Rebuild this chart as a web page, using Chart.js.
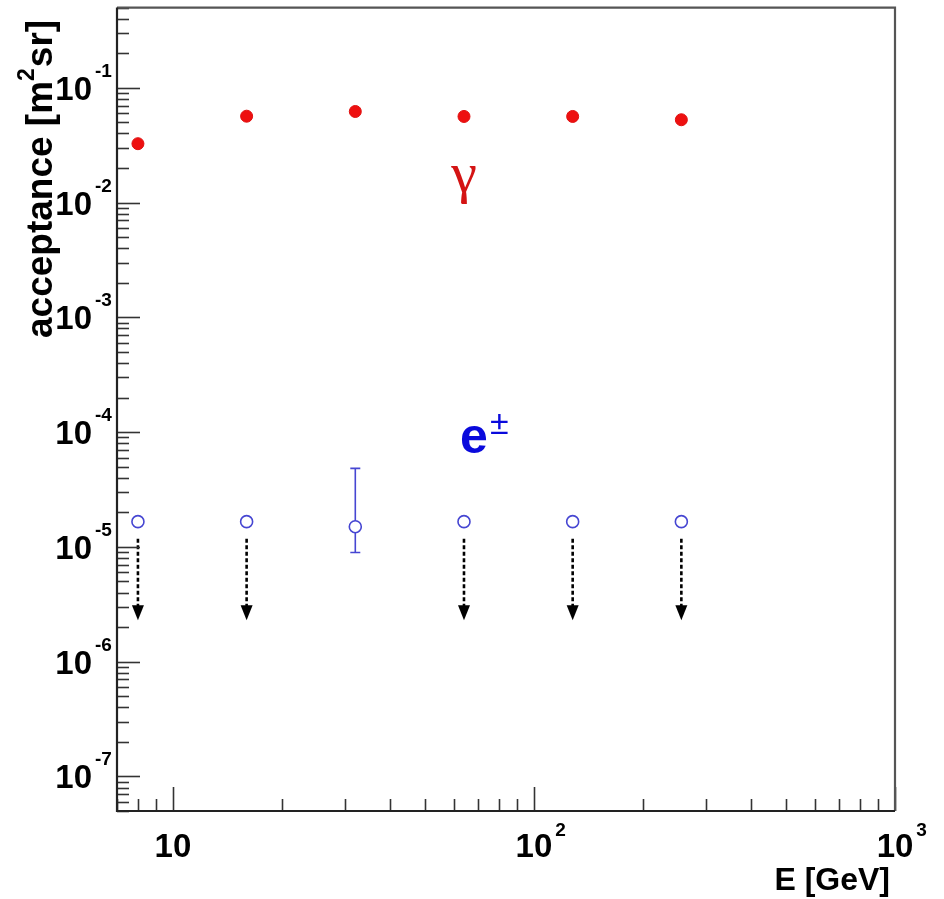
<!DOCTYPE html>
<html lang="en">
<head>
<meta charset="UTF-8">
<title>Acceptance vs energy</title>
<script src="https://cdn.jsdelivr.net/npm/chart.js"></script>
<style>
  body { margin: 0; background: #fff; }
  #chart { display: block; }
</style>
</head>
<body>
<canvas id="chart" width="944" height="899"></canvas>
<script>
// energy bins (GeV) and acceptance (m^2 sr)
const energies = [8, 16, 32, 64, 128, 256];
const gammaAcc = [0.0326, 0.0566, 0.0622, 0.0563, 0.0563, 0.0527];
const electronAcc = [1.66e-5, 1.66e-5, 1.50e-5, 1.66e-5, 1.66e-5, 1.66e-5];
// only the 32 GeV electron point is a measurement, the others are upper limits
const electronErrLow = [null, null, 8.93e-6, null, null, null];
const electronErrHigh = [null, null, 4.83e-5, null, null, null];
const upperLimit = [true, true, false, true, true, true];
const arrowTip = 2.3e-6;

const xRange = [7, 1000];
const yRange = [5e-8, 0.5];
const xTickValues = [10, 100, 1000];
const xTickExps = ['', '2', '3'];
const yTickValues = [1e-7, 1e-6, 1e-5, 1e-4, 1e-3, 1e-2, 1e-1];
const yTickExps = ['-7', '-6', '-5', '-4', '-3', '-2', '-1'];

const FONT = '"Liberation Sans", Arial, sans-serif';

function minorTicks(lo, hi) {
  const out = [];
  for (let e = Math.floor(Math.log10(lo)); e <= Math.ceil(Math.log10(hi)); e++) {
    for (let m = 1; m <= 9; m++) {
      const v = m * Math.pow(10, e);
      if (v >= lo && v <= hi) out.push({ v: v, major: m === 1 });
    }
  }
  return out;
}

const decorations = {
  id: 'decorations',
  beforeDatasetsDraw(chart) {
    const ctx = chart.ctx;
    const x = chart.scales.x, y = chart.scales.y;
    // error bar on the measured electron point
    ctx.save();
    ctx.strokeStyle = '#4646d2';
    ctx.lineWidth = 1.6;
    energies.forEach((e, i) => {
      if (electronErrLow[i] == null) return;
      const px = x.getPixelForValue(e);
      const y1 = y.getPixelForValue(electronErrHigh[i]);
      const y2 = y.getPixelForValue(electronErrLow[i]);
      ctx.beginPath();
      ctx.moveTo(px, y1); ctx.lineTo(px, y2);
      ctx.moveTo(px - 5, y1); ctx.lineTo(px + 5, y1);
      ctx.moveTo(px - 5, y2); ctx.lineTo(px + 5, y2);
      ctx.stroke();
    });
    ctx.restore();
  },
  afterDatasetsDraw(chart) {
    const ctx = chart.ctx;
    const x = chart.scales.x, y = chart.scales.y;
    const a = chart.chartArea;
    ctx.save();

    // upper limit arrows
    ctx.strokeStyle = '#000';
    ctx.fillStyle = '#000';
    energies.forEach((e, i) => {
      if (!upperLimit[i]) return;
      const px = x.getPixelForValue(e);
      const top = y.getPixelForValue(electronAcc[i]) + 17;
      const tip = y.getPixelForValue(arrowTip);
      ctx.lineWidth = 2.6;
      ctx.setLineDash([4, 2.5]);
      ctx.beginPath();
      ctx.moveTo(px, top); ctx.lineTo(px, tip - 14);
      ctx.stroke();
      ctx.setLineDash([]);
      ctx.beginPath();
      ctx.moveTo(px - 6, tip - 15);
      ctx.lineTo(px + 6, tip - 15);
      ctx.lineTo(px, tip);
      ctx.closePath();
      ctx.fill();
    });

    // ticks drawn inside the frame
    ctx.strokeStyle = '#333';
    ctx.lineWidth = 1.6;
    minorTicks(yRange[0], yRange[1]).forEach(t => {
      const py = Math.round(y.getPixelForValue(t.v)) + 0.5;
      ctx.beginPath();
      ctx.moveTo(a.left, py); ctx.lineTo(a.left + (t.major ? 23 : 12), py);
      ctx.stroke();
    });
    minorTicks(xRange[0], xRange[1]).forEach(t => {
      const px = Math.round(x.getPixelForValue(t.v)) + 0.5;
      ctx.beginPath();
      ctx.moveTo(px, a.bottom); ctx.lineTo(px, a.bottom - (t.major ? 24 : 12));
      ctx.stroke();
    });

    // frame
    ctx.lineWidth = 2.2;
    ctx.strokeStyle = '#555';
    ctx.beginPath();
    ctx.moveTo(a.left, a.top); ctx.lineTo(a.right, a.top); ctx.lineTo(a.right, a.bottom);
    ctx.stroke();
    ctx.strokeStyle = '#222';
    ctx.beginPath();
    ctx.moveTo(a.left, a.top); ctx.lineTo(a.left, a.bottom); ctx.lineTo(a.right, a.bottom);
    ctx.stroke();

    // tick labels with exponents
    ctx.fillStyle = '#000';
    yTickValues.forEach((v, i) => {
      const py = y.getPixelForValue(v);
      ctx.font = 'bold 33px ' + FONT;
      ctx.textAlign = 'right';
      ctx.textBaseline = 'alphabetic';
      ctx.fillText('10', 92, py + 12);
      ctx.font = 'bold 19px ' + FONT;
      ctx.textAlign = 'left';
      ctx.fillText(yTickExps[i], 95, py - 11);
    });
    xTickValues.forEach((v, i) => {
      const px = x.getPixelForValue(v);
      ctx.font = 'bold 33px ' + FONT;
      ctx.textAlign = 'center';
      ctx.fillText('10', px, 857);
      const w = ctx.measureText('10').width;
      if (xTickExps[i]) {
        ctx.font = 'bold 19px ' + FONT;
        ctx.textAlign = 'left';
        ctx.fillText(xTickExps[i], px + w / 2 + 3, 836);
      }
    });

    // axis titles
    ctx.font = 'bold 32px ' + FONT;
    ctx.textAlign = 'right';
    ctx.fillText('E [GeV]', 890, 890);

    ctx.save();
    ctx.translate(52, 0);
    ctx.rotate(-Math.PI / 2);
    ctx.textAlign = 'left';
    const big = 'bold 37px ' + FONT, small = 'bold 23px ' + FONT;
    ctx.font = big;
    const p1 = 'acceptance [m', p3 = 'sr]';
    const w1 = ctx.measureText(p1).width;
    ctx.font = small;
    const w2 = ctx.measureText('2').width;
    let sx = -338;
    ctx.font = big;
    ctx.fillText(p1, sx, 0);
    sx += w1;
    ctx.font = small;
    ctx.fillText('2', sx, -18);
    sx += w2 + 1;
    ctx.font = big;
    ctx.fillText(p3, sx, 0);
    ctx.restore();

    // particle labels
    ctx.fillStyle = '#d41414';
    ctx.font = '58px "Liberation Serif", "DejaVu Serif", serif';
    ctx.textAlign = 'center';
    ctx.fillText('γ', x.getPixelForValue(64), 192);
    ctx.fillStyle = '#0a0adc';
    ctx.font = 'bold 50px ' + FONT;
    ctx.textAlign = 'left';
    ctx.fillText('e', 460, 453);
    ctx.font = '34px ' + FONT;
    ctx.fillText('±', 490, 434);

    ctx.restore();
  }
};

new Chart(document.getElementById('chart'), {
  type: 'scatter',
  data: {
    datasets: [
      {
        label: 'gamma',
        data: energies.map((e, i) => ({ x: e, y: gammaAcc[i] })),
        pointRadius: 6,
        pointBackgroundColor: '#ee1010',
        pointBorderColor: '#e01010',
        pointBorderWidth: 1
      },
      {
        label: 'electron',
        data: energies.map((e, i) => ({ x: e, y: electronAcc[i] })),
        pointRadius: 6,
        pointBackgroundColor: '#fff',
        pointBorderColor: '#4646d2',
        pointBorderWidth: 1.6
      }
    ]
  },
  options: {
    responsive: false,
    animation: false,
    layout: { padding: { left: 117, top: 7, right: 49, bottom: 88 } },
    plugins: { legend: { display: false }, tooltip: { enabled: false } },
    scales: {
      x: { type: 'logarithmic', min: xRange[0], max: xRange[1], display: false },
      y: { type: 'logarithmic', min: yRange[0], max: yRange[1], display: false }
    }
  },
  plugins: [decorations]
});
</script>
</body>
</html>
